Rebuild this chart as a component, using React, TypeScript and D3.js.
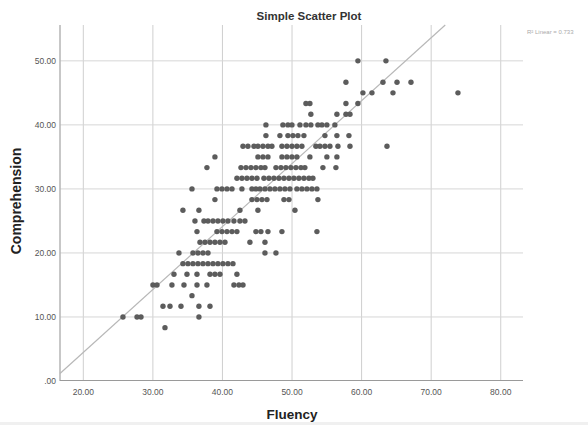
import * as d3 from 'd3';

// comprehension is scored in steps of 1.667, so points sit on rows
const comprehensionLevels = [
  50, 46.67, 45, 43.33, 41.67, 40, 38.33, 36.67, 35, 33.33, 31.67, 30, 28.33,
  26.67, 25, 23.33, 21.67, 20, 18.33, 16.67, 15, 13.33, 11.67, 10, 8.33,
];

// fluency values for each comprehension row (same order as above)
const fluencyByLevel = [
  [59.47, 63.5],
  [57.75, 63.07, 65.09, 67.1],
  [60.19, 61.49, 64.51, 73.85],
  [52.0, 52.57, 57.75, 59.47],
  [52.71, 56.45, 57.75, 58.33],
  [46.25, 48.69, 49.41, 49.99, 51.14, 52.0, 52.71, 53.72, 54.3, 55.01, 56.16],
  [46.25, 48.26, 49.41, 50.13, 50.85, 51.71, 54.73, 56.45, 58.18],
  [42.95, 43.66, 44.53, 45.1, 45.82, 46.54, 47.11, 48.55, 49.27, 49.99, 50.7, 51.42, 53.43, 54.01, 54.73, 55.45, 56.6, 58.33, 63.65],
  [38.92, 45.1, 45.82, 46.54, 48.55, 49.27, 49.99, 50.7, 52.57, 55.01, 56.45],
  [37.77, 42.66, 43.38, 44.1, 44.81, 45.53, 46.11, 47.69, 48.41, 49.12, 49.84, 50.56, 51.28, 51.85, 54.44, 56.31],
  [42.08, 42.8, 43.52, 44.24, 44.96, 45.96, 46.68, 47.4, 48.12, 48.84, 49.56, 50.27, 50.99, 51.71, 52.43, 53.0],
  [35.62, 39.21, 39.93, 40.65, 41.37, 42.8, 44.24, 44.81, 45.39, 46.11, 46.83, 47.54, 48.26, 48.98, 49.7, 50.7, 51.42, 52.14, 52.86, 53.58],
  [38.92, 44.24, 44.96, 45.68, 46.4, 48.84, 49.56, 53.72],
  [34.32, 36.62, 42.51, 45.1, 50.42],
  [36.05, 37.34, 37.92, 38.64, 39.35, 40.07, 40.79, 41.65, 42.51, 43.23],
  [36.34, 39.21, 39.93, 40.65, 41.37, 42.08, 44.81, 45.53, 46.54, 48.55, 53.58],
  [36.77, 37.49, 38.21, 38.92, 39.64, 40.36, 43.95, 46.11],
  [33.75, 35.76, 36.48, 37.2, 37.92, 46.11, 47.69],
  [34.32, 35.04, 35.76, 36.48, 37.2, 37.92, 38.64, 39.35, 40.07, 40.79, 41.51],
  [33.03, 34.9, 36.34, 38.21, 38.92, 39.64, 42.08],
  [30.01, 30.59, 32.74, 34.47, 36.34, 37.77, 41.65, 42.37, 42.95],
  [35.62],
  [31.45, 32.46, 34.04, 36.62, 38.21],
  [25.7, 27.72, 28.29, 36.62],
  [31.74],
];

const xTicks = [20, 30, 40, 50, 60, 70, 80];
const yTicks = [0, 10, 20, 30, 40, 50];

// linear fit
const fitIntercept = -15.2;
const fitSlope = 0.983;
const fitLabel = 'R² Linear = 0.733';

const App = () => {
  const width = 588;
  const height = 425;
  const plot = { left: 60, right: 523, top: 25, bottom: 381 };

  const x = d3.scaleLinear().domain([16.65, 83.2]).range([plot.left, plot.right]);
  const y = d3.scaleLinear().domain([0, 55.6]).range([plot.bottom, plot.top]);

  const points = comprehensionLevels.flatMap((c, i) =>
    fluencyByLevel[i].map(f => ({ f, c }))
  );

  // fit line clipped to the plot area
  const x0 = x.domain()[0];
  const x1 = Math.min(x.domain()[1], (y.domain()[1] - fitIntercept) / fitSlope);
  const fitLine = d3.line<number>()
    .x(d => x(d))
    .y(d => y(fitIntercept + fitSlope * d));

  const fmt = (v: number) => (v === 0 ? '.00' : v.toFixed(2));
  const sans = 'Liberation Sans, Arial, sans-serif';

  return (
    <svg
      width={width}
      height={height}
      style={{ position: 'absolute', left: 0, top: 0, background: '#fff' }}
      fontFamily={sans}
    >
      <rect x={0} y={0} width={width} height={height} fill="#fff" />

      {/* grid */}
      {xTicks.map(t => (
        <line key={'gx' + t} x1={x(t)} x2={x(t)} y1={plot.top} y2={plot.bottom}
          stroke="#cfcfcf" strokeWidth={1} />
      ))}
      {yTicks.filter(t => t > 0).map(t => (
        <line key={'gy' + t} x1={plot.left} x2={plot.right} y1={y(t)} y2={y(t)}
          stroke="#d6d6d6" strokeWidth={1} />
      ))}

      {/* axes */}
      <line x1={plot.left} x2={plot.left} y1={plot.top} y2={plot.bottom} stroke="#b5b5b5" strokeWidth={1.5} />
      <line x1={plot.left} x2={plot.right} y1={plot.bottom - 0.5} y2={plot.bottom - 0.5} stroke="#9a9a9a" strokeWidth={1.2} />

      {yTicks.map(t => (
        <text key={'ty' + t} x={plot.left - 4} y={y(t) + 3} textAnchor="end"
          fontSize={8.5} fill="#555">{fmt(t)}</text>
      ))}
      {xTicks.map(t => (
        <text key={'tx' + t} x={x(t)} y={395} textAnchor="middle"
          fontSize={8.5} fill="#555">{fmt(t)}</text>
      ))}

      {/* fit line */}
      <path d={fitLine([x0, x1]) || ''} fill="none" stroke="#b8b8b8" strokeWidth={1.2} />

      {/* points */}
      {points.map((p, i) => (
        <circle key={i} cx={x(p.f)} cy={y(p.c)} r={2.7} fill="#5c5c5c" />
      ))}

      {/* titles */}
      <text x={309} y={20} textAnchor="middle" fontSize={11.5} fontWeight="bold" fill="#333">
        Simple Scatter Plot
      </text>
      <text x={292} y={419} textAnchor="middle" fontSize={13.5} fontWeight="bold" fill="#222">
        Fluency
      </text>
      <text transform="translate(21,201) rotate(-90)" textAnchor="middle" fontSize={14}
        fontWeight="bold" fill="#222">
        Comprehension
      </text>
      <text x={527} y={34} fontSize={6} fill="#aaa">{fitLabel}</text>

      <rect x={0} y={422} width={width} height={3} fill="#f0f0f0" />
    </svg>
  );
};

export default App;
